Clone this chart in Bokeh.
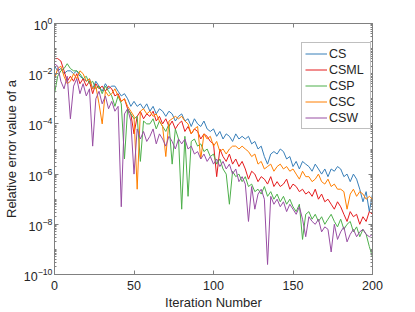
from bokeh.plotting import figure
from bokeh.models import FixedTicker, LinearAxis, LogAxis, Legend, CustomJSTickFormatter
from bokeh.embed import file_html
from bokeh.resources import INLINE

iterations = list(range(0, 201, 2))

cs = [2.0e-2, 1.3e-2, 1.6e-2, 1.0e-2, 1.3e-2, 1.3e-2, 1.0e-2, 1.3e-2, 7.9e-3, 6.3e-3,
      5.0e-3, 6.3e-3, 2.5e-3, 5.0e-3, 3.2e-3, 2.0e-3, 4.0e-3, 2.5e-3, 3.2e-3, 3.2e-3,
      2.0e-3, 1.3e-3, 1.6e-3, 1.0e-3, 5.0e-4, 7.9e-4, 5.0e-4, 6.3e-4, 4.0e-4, 6.3e-4,
      3.2e-4, 5.0e-4, 2.5e-4, 4.0e-4, 3.2e-4, 2.0e-4, 3.2e-4, 2.5e-4, 1.3e-4, 2.0e-4,
      2.5e-4, 1.3e-4, 1.6e-4, 7.9e-5, 1.6e-4, 1.0e-4, 7.9e-5, 1.3e-4, 6.3e-5, 5.0e-5,
      6.3e-5, 3.2e-5, 5.0e-5, 2.5e-5, 4.0e-5, 3.2e-5, 2.0e-5, 4.0e-5, 2.5e-5, 3.2e-5,
      2.5e-5, 3.2e-5, 1.6e-5, 2.0e-5, 1.0e-5, 1.3e-5, 5.0e-6, 2.5e-6, 6.3e-6, 7.9e-6,
      6.3e-6, 1.0e-5, 7.9e-6, 4.0e-6, 5.0e-6, 2.0e-6, 3.2e-6, 1.6e-6, 3.2e-6, 2.5e-6,
      2.0e-6, 1.3e-6, 2.5e-6, 1.6e-6, 1.0e-6, 1.6e-6, 7.9e-7, 1.6e-6, 1.3e-6, 2.0e-6,
      1.6e-6, 7.9e-7, 1.0e-6, 5.0e-7, 1.0e-6, 6.3e-7, 2.5e-7, 7.9e-8, 2.0e-7, 3.2e-8, 1.6e-7]

csml = [4.0e-2, 4.0e-2, 3.2e-2, 1.3e-2, 5.0e-3, 7.9e-3, 5.0e-3, 1.0e-2, 4.0e-3, 6.3e-3,
        3.2e-3, 5.0e-3, 1.6e-3, 4.0e-3, 2.5e-3, 3.2e-3, 2.0e-3, 3.2e-3, 2.5e-3, 1.3e-3,
        1.6e-3, 7.9e-4, 1.0e-3, 4.0e-4, 2.5e-4, 4.0e-5, 2.0e-4, 3.2e-4, 1.6e-4, 2.5e-4,
        2.0e-4, 3.2e-4, 1.3e-4, 2.0e-4, 1.0e-4, 1.6e-4, 7.9e-5, 1.3e-4, 6.3e-5, 1.0e-4,
        1.3e-4, 5.0e-5, 7.9e-5, 4.0e-5, 6.3e-5, 5.0e-5, 2.5e-5, 4.0e-5, 3.2e-5, 2.0e-5,
        1.6e-5, 7.9e-7, 1.0e-5, 5.0e-6, 3.2e-6, 6.3e-6, 2.5e-6, 4.0e-6, 2.0e-6, 3.2e-6,
        1.6e-6, 6.3e-7, 1.3e-6, 1.0e-6, 5.0e-7, 7.9e-7, 6.3e-7, 4.0e-7, 7.9e-7, 3.2e-7,
        5.0e-7, 3.2e-7, 4.0e-7, 6.3e-7, 2.5e-7, 4.0e-7, 3.2e-7, 2.0e-7, 2.5e-7, 1.6e-7,
        2.0e-7, 1.3e-7, 2.5e-7, 1.0e-7, 1.6e-7, 7.9e-8, 1.0e-7, 6.3e-8, 4.0e-8, 7.9e-8,
        5.0e-8, 2.5e-8, 1.3e-8, 3.2e-8, 2.0e-8, 2.5e-8, 1.0e-8, 2.0e-8, 1.3e-8, 3.2e-8, 2.5e-8]

csp = [1.6e-3, 7.9e-3, 1.3e-2, 1.6e-2, 2.5e-2, 1.6e-2, 1.3e-2, 1.3e-2, 1.0e-2, 6.3e-3,
       7.9e-3, 4.0e-3, 5.0e-3, 2.5e-3, 3.2e-3, 1.6e-3, 3.2e-3, 2.0e-3, 1.3e-3, 5.0e-4,
       1.3e-3, 6.3e-4, 4.0e-6, 4.0e-4, 2.5e-4, 1.6e-4, 2.0e-4, 3.2e-6, 1.3e-4, 1.0e-4,
       1.0e-4, 1.6e-4, 6.3e-5, 1.3e-4, 7.9e-5, 5.0e-5, 1.0e-4, 2.5e-6, 6.3e-5, 2.5e-5,
       4.0e-8, 3.2e-5, 1.3e-7, 2.0e-5, 2.5e-5, 1.3e-5, 1.6e-5, 7.9e-6, 1.0e-5, 5.0e-6,
       6.3e-6, 2.5e-6, 4.0e-6, 1.6e-6, 1.0e-6, 6.3e-8, 1.3e-6, 7.9e-7, 1.0e-6, 5.0e-7,
       7.9e-7, 3.2e-7, 4.0e-7, 2.0e-7, 2.5e-7, 1.6e-7, 3.2e-7, 1.3e-7, 2.0e-7, 1.0e-7,
       1.6e-7, 7.9e-8, 1.3e-7, 6.3e-8, 1.0e-7, 5.0e-8, 3.2e-8, 6.3e-8, 2.5e-9, 2.5e-8,
       3.2e-8, 1.6e-8, 2.5e-8, 1.3e-8, 2.0e-8, 1.0e-8, 1.6e-8, 2.5e-8, 1.3e-8, 7.9e-9,
       1.6e-8, 6.3e-9, 1.0e-8, 1.3e-8, 5.0e-9, 7.9e-9, 3.2e-9, 6.3e-9, 4.0e-9, 1.3e-9, 5.0e-10]

csc = [6.3e-3, 1.6e-2, 2.0e-2, 7.9e-3, 4.0e-3, 5.0e-3, 1.0e-2, 6.3e-3, 1.3e-2, 1.0e-2,
       5.0e-3, 6.3e-3, 2.5e-3, 3.2e-3, 6.3e-4, 1.0e-4, 2.0e-3, 1.3e-3, 1.6e-3, 2.5e-3,
       1.3e-3, 7.9e-4, 1.0e-3, 5.0e-4, 3.2e-4, 2.0e-4, 2.5e-7, 3.2e-4, 4.0e-4, 2.5e-4,
       3.2e-4, 2.0e-4, 2.5e-4, 1.3e-4, 7.9e-5, 5.0e-6, 1.3e-4, 1.6e-4, 2.0e-4, 1.6e-4,
       2.0e-4, 1.3e-4, 1.0e-4, 4.0e-5, 6.3e-5, 7.9e-5, 4.0e-6, 4.0e-5, 2.5e-5, 3.2e-5,
       1.3e-5, 2.0e-5, 7.9e-6, 1.0e-5, 6.3e-6, 1.0e-5, 1.3e-5, 1.3e-5, 1.0e-5, 1.3e-5,
       1.0e-5, 7.9e-6, 5.0e-6, 6.3e-6, 2.5e-6, 3.2e-6, 1.6e-6, 2.0e-6, 2.5e-6, 1.3e-6,
       2.0e-6, 2.5e-6, 1.6e-6, 2.0e-6, 1.3e-6, 1.6e-6, 1.0e-6, 6.3e-7, 1.3e-6, 7.9e-7,
       7.9e-7, 5.0e-7, 6.3e-7, 1.0e-6, 5.0e-7, 4.0e-7, 6.3e-7, 3.2e-7, 4.0e-7, 2.5e-7,
       2.5e-7, 2.0e-7, 4.0e-8, 1.6e-7, 2.5e-7, 1.3e-7, 2.0e-7, 1.6e-7, 1.0e-7, 1.3e-7, 1.0e-7]

csw = [2.5e-2, 2.0e-2, 5.0e-3, 2.5e-3, 7.9e-3, 1.6e-4, 3.2e-3, 6.3e-3, 1.6e-3, 4.0e-3,
       1.3e-3, 2.5e-3, 1.3e-5, 1.0e-3, 2.0e-3, 6.3e-4, 1.3e-3, 4.0e-4, 7.9e-4, 3.2e-4,
       5.0e-4, 5.0e-8, 2.5e-4, 4.0e-4, 1.3e-4, 1.0e-6, 6.3e-5, 2.5e-5, 5.0e-5, 2.0e-5,
       3.2e-5, 6.3e-5, 1.6e-5, 4.0e-5, 2.5e-5, 1.3e-5, 3.2e-5, 2.0e-5, 1.0e-5, 2.5e-5,
       1.6e-5, 2.5e-5, 1.0e-5, 1.3e-5, 6.3e-6, 7.9e-6, 4.0e-6, 6.3e-6, 3.2e-6, 5.0e-6,
       2.5e-6, 4.0e-6, 2.0e-6, 3.2e-6, 1.6e-6, 2.5e-6, 1.0e-6, 1.6e-6, 5.0e-7, 7.9e-7,
       4.0e-7, 1.3e-8, 3.2e-7, 4.0e-8, 1.6e-7, 2.5e-7, 1.0e-7, 2.5e-10, 1.3e-7, 6.3e-8,
       1.0e-7, 5.0e-8, 7.9e-8, 3.2e-8, 6.3e-8, 4.0e-8, 2.5e-8, 5.0e-8, 1.6e-8, 3.2e-9,
       2.0e-8, 1.3e-8, 1.0e-8, 1.6e-8, 5.0e-9, 7.9e-9, 6.3e-9, 7.9e-10, 1.0e-8, 2.5e-9,
       5.0e-9, 7.9e-9, 2.0e-9, 4.0e-9, 6.3e-9, 3.2e-9, 5.0e-9, 6.3e-9, 4.0e-9, 3.2e-9, 4.0e-9]

series_names = ["CS", "CSML", "CSP", "CSC", "CSW"]
series_colors = ["#377eb8", "#e41a1c", "#4daf4a", "#ff7f00", "#984ea3"]
x_ticks = [0, 50, 100, 150, 200]
y_ticks = [1e-10, 1e-8, 1e-6, 1e-4, 1e-2, 1e0]

FONT = "Liberation Sans"
AX = "#808080"
TXT = "#262626"

y_minor = [m * 10.0 ** k for k in range(-10, 0) for m in range(1, 10)]

p = figure(width=400, height=312, y_axis_type="log",
           x_range=(0, 200), y_range=(1e-10, 1),
           output_backend="svg", toolbar_location=None,
           min_border_left=50, min_border_right=28, min_border_top=23, min_border_bottom=37)
p.background_fill_color = "white"
p.border_fill_color = "white"
p.grid.visible = False
p.outline_line_color = AX

renderers = []
for name, ys, col in zip(series_names, [cs, csml, csp, csc, csw], series_colors):
    r = p.line(iterations, ys, line_color=col, line_width=1.0)
    renderers.append((name, [r]))

def style(ax):
    ax.axis_line_color = AX
    ax.major_tick_line_color = AX
    ax.minor_tick_line_color = AX
    ax.major_tick_in = 4
    ax.major_tick_out = 0
    ax.minor_tick_in = 2
    ax.minor_tick_out = 0
    ax.major_label_text_font = FONT
    ax.major_label_text_color = TXT
    ax.major_label_text_font_size = "12.5px"
    ax.axis_label_text_font = FONT
    ax.axis_label_text_color = TXT
    ax.axis_label_text_font_size = "13px"
    ax.axis_label_text_font_style = "normal"

blank = CustomJSTickFormatter(code="return '';")

p.xaxis.ticker = FixedTicker(ticks=x_ticks)
p.yaxis.ticker = FixedTicker(ticks=y_ticks, minor_ticks=y_minor)
style(p.xaxis[0])
style(p.yaxis[0])
p.xaxis.axis_label = "Iteration Number"
p.yaxis.axis_label = "Relative error value of a"
p.xaxis.major_label_standoff = 6
p.xaxis.axis_label_standoff = 2
p.yaxis.major_label_standoff = 2
p.yaxis.axis_label_standoff = 2
p.xaxis.minor_tick_in = 0

top = LinearAxis(ticker=FixedTicker(ticks=x_ticks), formatter=blank)
style(top)
top.minor_tick_in = 0
top.major_label_standoff = 0
p.add_layout(top, "above")
right = LogAxis(ticker=FixedTicker(ticks=y_ticks, minor_ticks=y_minor), formatter=blank)
style(right)
right.major_label_standoff = 0
p.add_layout(right, "right")

legend = Legend(items=renderers, location=(247, 145))
legend.label_text_font = FONT
legend.label_text_font_size = "12.5px"
legend.label_text_color = TXT
legend.glyph_width = 22
legend.glyph_height = 15
legend.label_height = 15
legend.label_width = 38
legend.label_standoff = 2
legend.spacing = 1
legend.padding = 3
legend.margin = 0
legend.border_line_color = AX
legend.border_line_width = 1
legend.background_fill_color = "white"
legend.background_fill_alpha = 1
p.add_layout(legend, "center")

open("out.html", "w").write(file_html(p, INLINE))
